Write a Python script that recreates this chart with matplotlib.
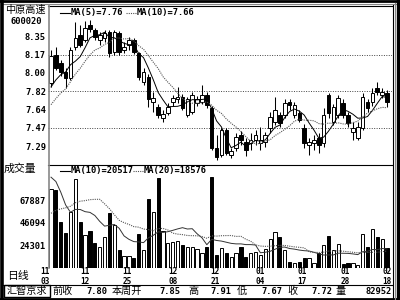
import numpy as np
import matplotlib
matplotlib.use('Agg')
import matplotlib.pyplot as plt
from matplotlib.lines import Line2D
from matplotlib.patches import Rectangle
import matplotlib.transforms as mtrans

stock_name = '中原高速'
stock_code = '600020'

opens  = [7.90, 8.17, 8.09, 8.00, 7.95, 8.24, 8.36, 8.31, 8.46, 8.41,
          8.31, 8.33, 8.39, 8.20, 8.38, 8.22, 8.26, 8.31, 8.19, 7.91,
          7.96, 7.72, 7.67, 7.56, 7.61, 7.72, 7.74, 7.76, 7.59, 7.62,
          7.71, 7.72, 7.78, 7.66, 7.27, 7.21, 7.45, 7.21, 7.27, 7.40,
          7.33, 7.32, 7.35, 7.32, 7.33, 7.47, 7.52, 7.59, 7.59, 7.72,
          7.59, 7.61, 7.47, 7.30, 7.32, 7.37, 7.32, 7.78, 7.52, 7.59,
          7.71, 7.59, 7.43, 7.37, 7.47, 7.72, 7.72, 7.85, 7.78, 7.80]
highs  = [8.22, 8.24, 8.12, 8.04, 8.24, 8.48, 8.46, 8.49, 8.50, 8.43,
          8.39, 8.41, 8.41, 8.41, 8.40, 8.29, 8.34, 8.33, 8.20, 8.04,
          7.98, 7.81, 7.70, 7.64, 7.71, 7.78, 7.86, 7.79, 7.76, 7.81,
          7.77, 7.88, 7.81, 7.68, 7.40, 7.47, 7.47, 7.27, 7.42, 7.44,
          7.37, 7.42, 7.45, 7.48, 7.43, 7.62, 7.76, 7.62, 7.74, 7.74,
          7.72, 7.64, 7.50, 7.37, 7.40, 7.42, 7.66, 7.80, 7.70, 7.78,
          7.74, 7.62, 7.52, 7.52, 7.80, 7.74, 7.85, 7.91, 7.85, 7.83]
lows   = [7.86, 8.02, 7.97, 7.85, 7.93, 8.22, 8.24, 8.29, 8.39, 8.31,
          8.26, 8.29, 8.15, 8.17, 8.17, 8.19, 8.22, 8.18, 7.93, 7.88,
          7.67, 7.62, 7.56, 7.52, 7.59, 7.68, 7.71, 7.64, 7.57, 7.60,
          7.68, 7.70, 7.66, 7.25, 7.16, 7.19, 7.21, 7.18, 7.24, 7.30,
          7.20, 7.25, 7.30, 7.25, 7.28, 7.42, 7.49, 7.48, 7.56, 7.64,
          7.56, 7.52, 7.27, 7.21, 7.25, 7.23, 7.28, 7.56, 7.49, 7.56,
          7.56, 7.48, 7.35, 7.35, 7.45, 7.62, 7.68, 7.78, 7.75, 7.67]
closes = [8.16, 8.04, 8.00, 7.95, 8.22, 8.33, 8.26, 8.43, 8.42, 8.34,
          8.36, 8.38, 8.19, 8.39, 8.20, 8.24, 8.31, 8.20, 7.96, 8.00,
          7.74, 7.75, 7.59, 7.60, 7.67, 7.75, 7.76, 7.66, 7.74, 7.78,
          7.74, 7.78, 7.69, 7.27, 7.19, 7.45, 7.23, 7.24, 7.38, 7.35,
          7.25, 7.35, 7.40, 7.35, 7.40, 7.57, 7.64, 7.51, 7.71, 7.69,
          7.69, 7.54, 7.32, 7.33, 7.35, 7.30, 7.59, 7.61, 7.67, 7.75,
          7.59, 7.51, 7.47, 7.48, 7.76, 7.66, 7.80, 7.81, 7.81, 7.72]
volumes = [79000, 78000, 47000, 36000, 56000, 88000, 47000, 34000, 38000, 26000,
           22000, 32000, 55000, 44000, 19000, 14000, 14000, 12000, 35000, 19000,
           69000, 56000, 89000, 38000, 26000, 27000, 28000, 24000, 22000, 22000,
           20000, 17000, 22000, 90000, 15000, 21000, 17000, 13000, 17000, 22000,
           13000, 17000, 18000, 15000, 20000, 30000, 37000, 32000, 19000, 8000,
           7000, 8000, 12000, 12000, 7000, 17000, 24000, 33000, 19000, 25000,
           6000, 7000, 7000, 5000, 35000, 22000, 40000, 32000, 30000, 21000]
# days before the first shown bar, only used to start the moving averages
prev_closes = [7.45, 7.48, 7.55, 7.52, 7.60, 7.70, 7.75, 7.82, 7.87]
prev_volumes = [18000, 22000, 15000, 25000, 20000, 17000, 23000, 19000, 21000, 20000,
                120000, 150000, 160000, 127000, 60000, 48000, 55000, 45000, 56000]

date_labels = ['11\n03', '11\n12', '11\n25', '12\n08', '12\n21',
               '01\n04', '01\n17', '01\n28', '02\n18']
price_ticks = [8.35, 8.17, 8.00, 7.82, 7.64, 7.47, 7.29]
price_grid = [8.17, 7.82, 7.47]
vol_ticks = [67887, 46094, 24301]
ma_price_text = ['MA(5)=7.76', 'MA(10)=7.66']
ma_vol_text = ['MA(10)=20517', 'MA(20)=18576']
info_labels = ['前收', '本周开', '高', '低', '收', '量']
info_values = ['7.80', '7.85', '7.91', '7.67', '7.72', '82952']

W, H = 400, 300
def fx(px): return px / W
def fy(py): return 1 - py / H

def ma(prev, cur, n):
    a = np.concatenate([prev, cur])
    return np.convolve(a, np.ones(n) / n, mode='valid')[-len(cur):]

MONO = dict(family='DejaVu Sans Mono', weight='bold', size=6.3)
CJK = dict(family=['Noto Sans CJK SC', 'DejaVu Sans'])

fig = plt.figure(figsize=(4, 3), dpi=100)
fig.patch.set_facecolor('white')

ax_p = fig.add_axes([fx(48), fy(165), 344 / W, 160 / H])
ax_v = fig.add_axes([fx(48), fy(268), 344 / W, 103 / H])

x = np.arange(len(closes))
o, h, l, c = map(np.array, (opens, highs, lows, closes))
up = c >= o
face = np.where(up, 'white', 'black')

# price panel
for g in price_grid:
    ax_p.axhline(g, color='#444444', lw=0.7, ls=(0, (1, 1.5)), zorder=1)
ax_p.vlines(x, l, h, color='k', lw=0.75, zorder=2)
ax_p.bar(x, np.maximum(np.abs(c - o), 0.008), bottom=np.minimum(o, c), width=0.74,
         color=face, edgecolor='k', linewidth=0.7, zorder=3)
ax_p.plot(x, ma(prev_closes, c, 5), color='k', lw=0.7, zorder=4)
ax_p.plot(x, ma(prev_closes, c, 10), color='#555555', lw=0.8, ls=(0, (1, 1)), zorder=4)
ax_p.set_ylim(7.110, 8.648)
ax_p.set_yticks(price_ticks)
ax_p.set_yticklabels(['%.2f' % t for t in price_ticks], **MONO)

# volume panel
v = np.array(volumes, dtype=float)
ax_v.bar(x, v, width=0.66, color=face, edgecolor='k', linewidth=0.7, zorder=3)
ax_v.plot(x, ma(prev_volumes, v, 10), color='#333333', lw=0.7, zorder=4)
ax_v.plot(x, ma(prev_volumes, v, 20), color='#555555', lw=0.8, ls=(0, (1, 1)), zorder=4)
ax_v.set_ylim(2034, 101800)
ax_v.set_yticks(vol_ticks)
ax_v.set_yticklabels([str(t) for t in vol_ticks], **MONO)

for ax in (ax_p, ax_v):
    ax.set_xlim(-0.62, 70.03)
    ax.set_xticks([])
    ax.tick_params(axis='y', length=0, pad=1.5)
    for s in ax.spines.values():
        s.set_visible(False)
    ax.set_facecolor('none')

# date labels under the volume bars
date_pos = [-1.2, 7, 15.6, 25, 33.7, 43, 51.5, 60.4, 69]
tr = mtrans.blended_transform_factory(ax_v.transData, fig.transFigure)
for xi, lab in zip(date_pos, date_labels):
    fig.text(xi, fy(276.5), lab, transform=tr, ha='center', va='center',
             family='DejaVu Sans Mono', weight='bold', size=5.6, linespacing=1.0)

# legends
def legend(py, items):
    (x0, t0, d0, t1) = items
    fig.add_artist(Line2D([fx(x0), fx(x0 + 10)], [fy(py), fy(py)], color='k', lw=0.8))
    fig.text(fx(x0 + 11), fy(py), t0, va='center', ha='left', **MONO)
    fig.add_artist(Line2D([fx(d0), fx(d0 + 10)], [fy(py), fy(py)], color='#555555',
                          lw=0.8, ls=(0, (1, 1))))
    fig.text(fx(d0 + 11), fy(py), t1, va='center', ha='left', **MONO)

legend(13, (60, ma_price_text[0], 126, ma_price_text[1]))
legend(171, (60, ma_vol_text[0], 133, ma_vol_text[1]))

# left labels
fig.text(fx(25), fy(10), stock_name, ha='center', va='center', size=7.3, **CJK)
fig.text(fx(26), fy(21), stock_code, ha='center', va='center', **MONO)
fig.text(fx(4), fy(169), '成交量', ha='left', va='center', size=7.8, **CJK)
fig.text(fx(7), fy(276), '日线', ha='left', va='center', size=7.8, **CJK)

# info row
fig.patches.append(Rectangle((fx(4), fy(297)), fx(46), 12 / H, transform=fig.transFigure,
                             fill=False, edgecolor='k', lw=1.0))
fig.text(fx(27), fy(291), '汇智京求', ha='center', va='center', size=7.3, **CJK)
label_x = [52, 112, 188, 237, 287, 336]
value_x = [107, 180, 231, 282, 332, 392]
for lx, vx, lab, val in zip(label_x, value_x, info_labels, info_values):
    fig.text(fx(lx), fy(291), lab, ha='left', va='center', size=7.3, **CJK)
    fig.text(fx(vx), fy(291), val, ha='right', va='center', **MONO)

# frame lines
def hline(py, x0, x1, color='k', lw=0.8):
    fig.add_artist(Line2D([fx(x0), fx(x1)], [fy(py), fy(py)], color=color, lw=lw))
def vline(px, y0, y1, color='k', lw=0.8):
    fig.add_artist(Line2D([fx(px), fx(px)], [fy(y0), fy(y1)], color=color, lw=lw))

hline(1, 0, 400, lw=2.0)
hline(3.5, 3, 397, color='#888888', lw=0.8)
hline(5.5, 48, 392, lw=0.8)
hline(165, 48, 392, lw=0.8)
hline(284.5, 3, 392, lw=0.8)
hline(298.8, 0, 400, lw=2.0)
vline(1.5, 0, 300, lw=2.6)
vline(48.5, 5, 268, color='#888888', lw=1.2)
vline(392.5, 5, 300, lw=0.8)
vline(394.8, 3, 300, color='#888888', lw=0.8)
vline(398.2, 0, 300, lw=2.4)

fig.savefig('out.png', dpi=100, facecolor='white')
